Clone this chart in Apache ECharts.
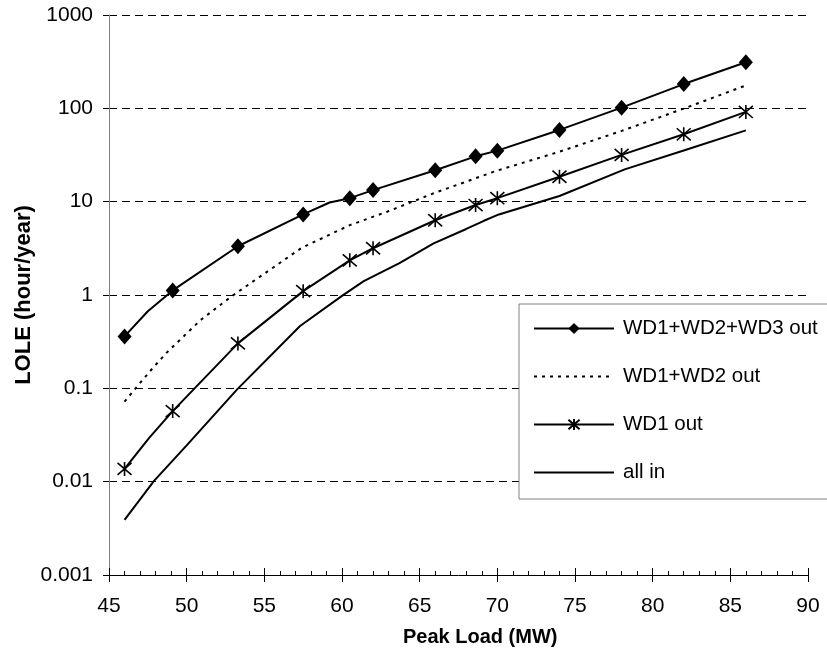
<!DOCTYPE html>
<html>
<head>
<meta charset="utf-8">
<script src="https://cdn.jsdelivr.net/npm/echarts@6/dist/echarts.min.js"></script>
<style>
html,body{margin:0;padding:0;background:#fff;}
#chart{width:827px;height:656px;}
</style>
</head>
<body>
<div id="chart"></div>
<script>
// ---- data ----
const seriesNames = ['WD1+WD2+WD3 out', 'WD1+WD2 out', 'WD1 out', 'all in'];
const markedLoads = [46, 49.1, 53.3, 57.5, 60.5, 62, 66, 68.6, 70, 74, 78, 82, 86];

const wd123Loads = [46, 47.5, 49.1, 53.3, 57.5, 59.2, 60.5, 62, 66, 68.6, 70, 74, 78, 82, 86];
const wd123Lole  = [0.36, 0.67, 1.12, 3.33, 7.3, 9.8, 10.9, 13.3, 21.7, 30.6, 35.2, 58.7, 101.7, 182, 312];

const wd12Loads = [46, 46.6, 47.6, 48.7, 50.9, 52.9, 57.4, 60.5, 62.9, 65.9, 69.9, 74, 78, 82, 86];
const wd12Lole  = [0.072, 0.095, 0.15, 0.24, 0.54, 0.97, 3.2, 5.6, 7.8, 12.3, 21.3, 34.3, 57.3, 99.3, 176];

const wd1Loads = [46, 47.6, 49.1, 53.3, 57.5, 60.5, 62, 66, 68.6, 70, 74, 78, 82, 86];
const wd1Lole  = [0.0137, 0.0296, 0.057, 0.303, 1.1, 2.35, 3.17, 6.32, 9.2, 10.9, 18.5, 31.7, 52.7, 91.5];

const allInLoads = [46, 47.9, 50, 53.25, 57.3, 60, 61.4, 63.7, 65.9, 68, 69.1, 70.1, 74, 78.2, 81.9, 86];
const allInLole  = [0.0039, 0.0102, 0.0245, 0.0975, 0.466, 0.98, 1.41, 2.2, 3.58, 5.1, 6.2, 7.3, 11.5, 22.2, 34.9, 58];

const xTickLabels = ['45', '50', '55', '60', '65', '70', '75', '80', '85', '90'];
const yTickLabels = ['0.001', '0.01', '0.1', '1', '10', '100', '1000'];
const xAxisTitle = 'Peak Load (MW)';
const yAxisTitle = 'LOLE (hour/year)';

// ---- build ----
const FONT = '"Liberation Sans", Arial, sans-serif';
function build(xs, ys, withMarks) {
  return xs.map((x, i) => {
    const item = { value: [x, ys[i]] };
    if (withMarks && markedLoads.indexOf(x) < 0) item.symbol = 'none';
    return item;
  });
}
const asterisk = 'path://M0,-6L0,6M-5.2,-5.2L5.2,5.2M-5.2,5.2L5.2,-5.2';
const hiddenIcon = { color: 'rgba(0,0,0,0)', opacity: 0, borderWidth: 0 };

const chart = echarts.init(document.getElementById('chart'), null, { renderer: 'canvas' });
const xAxisCommon = {
  type: 'value', min: 45, max: 90, interval: 5, gridIndex: 0
};
chart.setOption({
  animation: false,
  backgroundColor: '#fff',
  textStyle: { fontFamily: FONT, color: '#000' },
  grid: { left: 109, right: 19, top: 15, bottom: 81, containLabel: false },
  title: {
    text: xAxisTitle, left: 403, top: 627, padding: 0,
    textStyle: { fontFamily: FONT, fontSize: 20, fontWeight: 'bold', color: '#000' }
  },
  legend: {
    orient: 'vertical', left: 519, top: 304,
    padding: [14, 30, 16, 14],
    itemWidth: 80, itemHeight: 14, itemGap: 27,
    backgroundColor: '#fff',
    borderColor: '#808080', borderWidth: 1,
    textStyle: { fontFamily: FONT, fontSize: 20.5, color: '#000', padding: [0, 0, 0, 4] },
    data: [
      { name: seriesNames[0] },
      { name: seriesNames[1], itemStyle: hiddenIcon },
      { name: seriesNames[2] },
      { name: seriesNames[3], itemStyle: hiddenIcon }
    ]
  },
  xAxis: [
    Object.assign({}, xAxisCommon, {
      position: 'bottom',
      axisLine: { show: true, lineStyle: { color: '#000', width: 1 } },
      axisTick: { show: true, inside: true, length: 7, lineStyle: { color: '#000' } },
      minorTick: { show: true, splitNumber: 5, length: 4, lineStyle: { color: '#000' } },
      axisLabel: {
        margin: 21, fontSize: 21, color: '#000', fontFamily: FONT,
        formatter: v => xTickLabels[Math.round((v - 45) / 5)]
      },
      splitLine: { show: false }
    }),
    Object.assign({}, xAxisCommon, {
      position: 'bottom',
      axisLine: { show: false },
      axisTick: { show: true, inside: false, length: 7, lineStyle: { color: '#000' } },
      axisLabel: { show: false },
      splitLine: { show: false }
    })
  ],
  yAxis: {
    type: 'log', logBase: 10, min: 0.001, max: 1000, splitNumber: 6,
    name: yAxisTitle, nameLocation: 'middle', nameRotate: 90, nameGap: 74,
    nameMoveOverlap: false,
    nameTextStyle: { fontFamily: FONT, fontSize: 22, fontWeight: 'bold', color: '#000' },
    axisLine: { show: true, lineStyle: { color: '#808080', width: 1 } },
    axisTick: { show: true, inside: false, length: 6, lineStyle: { color: '#000' } },
    minorTick: { show: false },
    axisLabel: {
      margin: 16, fontSize: 21, color: '#000', fontFamily: FONT,
      formatter: v => yTickLabels[Math.round(Math.log10(v)) + 3]
    },
    splitLine: { show: true, lineStyle: { color: '#000', width: 1, type: [8, 5] } }
  },
  series: [
    {
      name: seriesNames[0], type: 'line', xAxisIndex: 0,
      data: build(wd123Loads, wd123Lole, true),
      symbol: 'diamond', symbolSize: [14, 16], showAllSymbol: true,
      lineStyle: { color: '#000', width: 2 },
      itemStyle: { color: '#000' }
    },
    {
      name: seriesNames[1], type: 'line', xAxisIndex: 0,
      data: build(wd12Loads, wd12Lole, false),
      symbol: 'none',
      lineStyle: { color: '#000', width: 2, type: [3, 5] },
      itemStyle: { color: '#000' }
    },
    {
      name: seriesNames[2], type: 'line', xAxisIndex: 0,
      data: build(wd1Loads, wd1Lole, true),
      symbol: asterisk, symbolSize: 14, showAllSymbol: true,
      lineStyle: { color: '#000', width: 2 },
      itemStyle: { color: '#000', borderColor: '#000', borderWidth: 1.6 }
    },
    {
      name: seriesNames[3], type: 'line', xAxisIndex: 0,
      data: build(allInLoads, allInLole, false),
      symbol: 'none',
      lineStyle: { color: '#000', width: 2 },
      itemStyle: { color: '#000' }
    }
  ]
});
</script>
</body>
</html>
